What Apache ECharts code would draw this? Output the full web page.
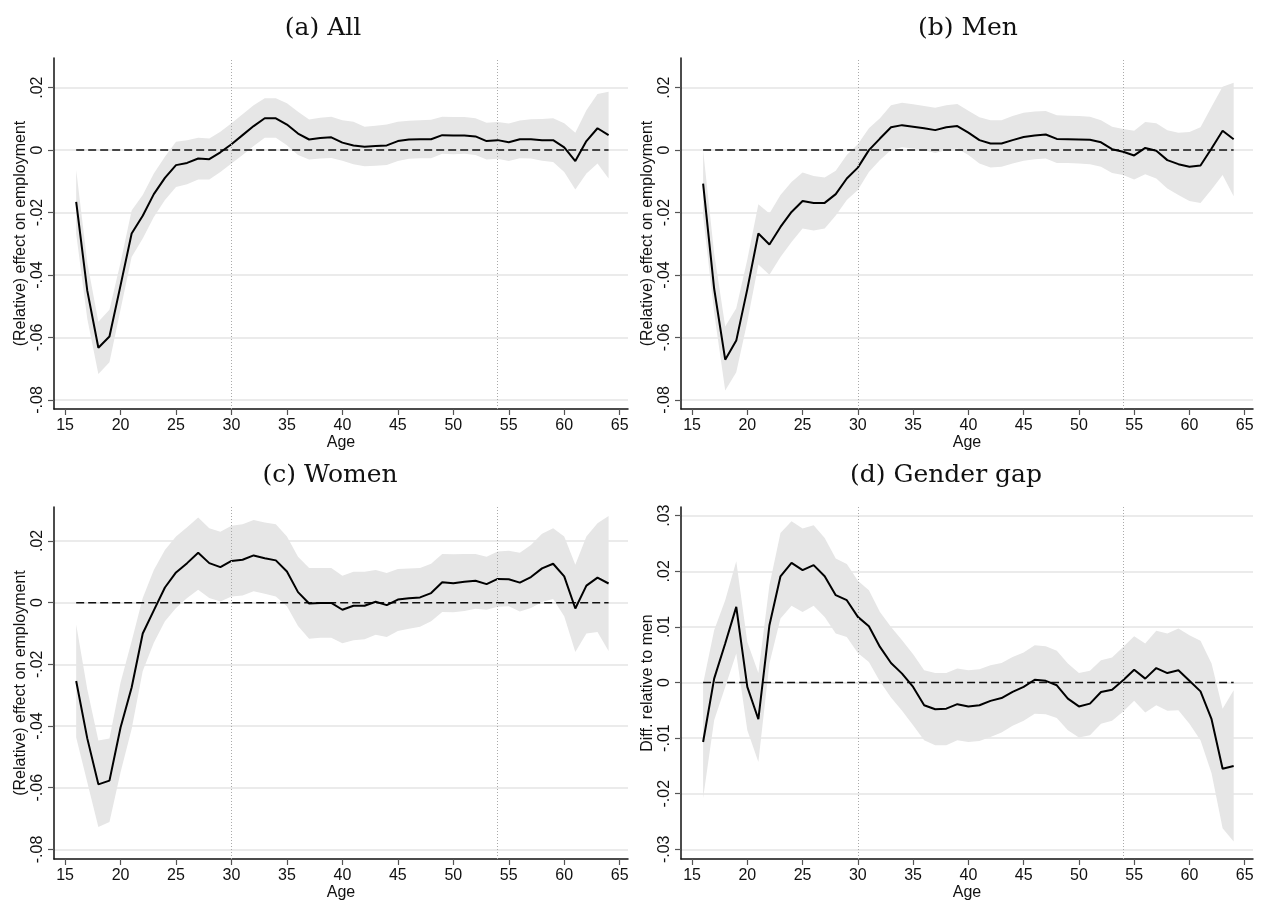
<!DOCTYPE html>
<html>
<head>
<meta charset="utf-8">
<title>Employment effects by age</title>
<script src="https://cdn.jsdelivr.net/npm/echarts@6/dist/echarts.min.js"></script>
<style>
  html, body { margin: 0; padding: 0; background: #fff; }
  #chart { width: 1263px; height: 904px; }
</style>
</head>
<body>
<div id="chart"></div>
<script>
// Ages covered by each estimate
const ages = [16,17,18,19,20,21,22,23,24,25,26,27,28,29,30,31,32,33,34,35,36,37,38,39,40,
              41,42,43,44,45,46,47,48,49,50,51,52,53,54,55,56,57,58,59,60,61,62,63,64];

// (a) All: point estimate and confidence band
const allMid = [-.0166,-.045,-.0633,-.0597,-.0433,-.0267,-.021,-.0141,-.0089,-.0048,-.0041,-.0027,-.0029,-.0007,.0019,.0048,.0077,.0102,.0102,.0082,.0053,.0034,.0039,.0041,.0024,
                .0015,.0011,.0013,.0015,.0029,.0034,.0035,.0035,.0048,.0047,.0047,.0044,.0029,.0032,.0025,.0035,.0035,.0032,.0032,.0009,-.0035,.0029,.0070,.0048];
const allLo  = [-.0268,-.054,-.0717,-.0679,-.051,-.0342,-.0283,-.0214,-.016,-.0118,-.0109,-.0094,-.0094,-.007,-.0043,-.0016,.0013,.004,.004,.0016,-.0016,-.003,-.0027,-.0025,-.0034,
                -.0045,-.0052,-.005,-.0048,-.0035,-.0028,-.0026,-.0026,-.0012,-.0013,-.0012,-.0016,-.003,-.0028,-.0035,-.0026,-.0027,-.0034,-.0038,-.007,-.0126,-.0075,-.0043,-.0091];
const allHi  = [-.0064,-.036,-.055,-.0511,-.036,-.0193,-.0144,-.0075,-.0021,.0027,.0032,.004,.0037,.0059,.0086,.0115,.0144,.0166,.0166,.015,.0123,.0098,.0104,.0107,.0096,
                .0091,.0075,.0078,.0082,.0091,.0094,.0096,.0097,.0107,.0106,.0106,.0102,.0088,.009,.0085,.0095,.0099,.01,.0102,.0086,.0056,.0128,.018,.0187];

// (b) Men
const menMid = [-.0107,-.0444,-.0671,-.061,-.0445,-.0267,-.0302,-.0246,-.0198,-.0163,-.0169,-.0169,-.0141,-.0091,-.0056,0,.0037,.0073,.008,.0075,.007,.0064,.0073,.0077,.0056,
                .0032,.0021,.0021,.0032,.0042,.0047,.005,.0036,.0035,.0034,.0033,.0025,.0003,-.0005,-.0017,.0007,-.0002,-.0032,-.0045,-.0053,-.0049,.0005,.0062,.0035];
const menLo  = [-.021,-.052,-.077,-.0711,-.055,-.0366,-.0399,-.0342,-.0294,-.0251,-.0257,-.0251,-.0209,-.016,-.0128,-.007,-.0032,0,.0009,.0005,0,-.0009,0,.0005,-.0016,
                -.0043,-.0056,-.0053,-.0043,-.0034,-.0029,-.0027,-.0041,-.0041,-.0043,-.0045,-.0053,-.0073,-.008,-.0094,-.0077,-.0091,-.0123,-.0144,-.0163,-.0169,-.0126,-.008,-.0148];
const menHi  = [0,-.033,-.0565,-.0506,-.035,-.0173,-.0203,-.0144,-.0102,-.0072,-.0083,-.0088,-.0066,-.0016,.0019,.007,.0102,.0144,.0152,.0147,.0141,.0136,.0144,.0148,.0126,
                .0105,.0096,.0096,.0109,.012,.0124,.0125,.0112,.011,.0109,.0107,.0096,.0075,.0068,.0062,.009,.0086,.0064,.0056,.0058,.0073,.0139,.0203,.0216];

// (c) Women
const womenMid = [-.0254,-.044,-.0589,-.0577,-.0405,-.0275,-.01,-.0025,.0049,.0098,.0128,.0162,.0128,.0115,.0135,.0139,.0153,.0144,.0137,.0101,.0034,-.0003,-.0001,-.0001,-.0023,
                  -.001,-.001,.0003,-.0008,.001,.0014,.0017,.0031,.0066,.0063,.0068,.0071,.006,.0077,.0076,.0065,.0083,.0111,.0126,.0085,-.0019,.0055,.0081,.0062];
const womenLo  = [-.0437,-.0582,-.0727,-.0711,-.055,-.041,-.0222,-.013,-.006,-.0017,.0015,.0042,.0015,.0004,.002,.0023,.0037,.0029,.002,-.0012,-.0076,-.0117,-.0114,-.0114,-.0132,
                  -.0122,-.0119,-.0104,-.0111,-.0092,-.0085,-.0078,-.006,-.003,-.0031,-.0027,-.002,-.0023,-.0013,-.0012,-.0029,-.0017,.0002,.0012,-.0044,-.016,-.01,-.0095,-.0157];
const womenHi  = [-.0071,-.0281,-.0447,-.044,-.0259,-.0125,.0015,.0106,.0171,.0214,.0244,.0276,.0241,.023,.0249,.0254,.0268,.026,.0254,.0214,.0149,.0112,.0112,.0112,.0087,
                  .01,.01,.0106,.0096,.0109,.0111,.0112,.0126,.0158,.0157,.0158,.0158,.0149,.0166,.0168,.0162,.0187,.0223,.0241,.0214,.0123,.0214,.0257,.0281];

// (d) Gender gap
const gapMid = [-.0107,.0007,.007,.0136,-.0008,-.0066,.0103,.0191,.0215,.0202,.0211,.0191,.0157,.0148,.0118,.0101,.0064,.0035,.0016,-.0008,-.0041,-.0048,-.0047,-.0039,-.0043,
                -.0041,-.0033,-.0028,-.0017,-.0008,.0005,.0003,-.0005,-.0029,-.0043,-.0038,-.0017,-.0013,.0004,.0023,.0007,.0026,.0017,.0022,.0003,-.0016,-.0066,-.0155,-.015];
const gapLo  = [-.0208,-.0068,-.0008,.0052,-.0086,-.0143,.0034,.0115,.0138,.0127,.0138,.0118,.0088,.0082,.0053,.0037,.0002,-.0027,-.0051,-.0077,-.0104,-.0113,-.0113,-.0104,-.0107,
                -.0105,-.0098,-.009,-.0078,-.0069,-.0056,-.0057,-.0064,-.0086,-.0099,-.0095,-.0074,-.0069,-.0052,-.0033,-.0054,-.0041,-.0051,-.005,-.0074,-.0104,-.0163,-.0262,-.0286];
const gapHi  = [-.0002,.0094,.0148,.0218,.0073,.0017,.0175,.0269,.029,.0277,.0283,.026,.0223,.0213,.0183,.0166,.0127,.01,.0076,.0051,.0022,.0017,.0017,.0025,.0022,
                .0024,.0031,.0035,.0046,.0054,.0067,.0065,.0057,.0034,.0017,.0021,.004,.0045,.0064,.0083,.007,.0093,.0088,.0097,.0085,.0075,.0034,-.0047,-.0014];

// Tick values
const xTicks = [15,20,25,30,35,40,45,50,55,60,65];
const yTicksEmp = [-0.08,-0.06,-0.04,-0.02,0,0.02];
const yTicksGap = [-0.03,-0.02,-0.01,0,0.01,0.02,0.03];

// Reference lines
const refAges = [30, 54];
const zeroSpan = [16, 64];

const panels = [
  { title: '(a) All',        mid: allMid,   lo: allLo,   hi: allHi,   yTicks: yTicksEmp, yName: '(Relative) effect on employment',
    grid: { left: 54, top: 58, width: 574, height: 351 }, yMin: -0.0829, yMax: 0.0295, titleX: 318, titleY: 11 },
  { title: '(b) Men',        mid: menMid,   lo: menLo,   hi: menHi,   yTicks: yTicksEmp, yName: '(Relative) effect on employment',
    grid: { left: 681, top: 58, width: 572, height: 351 }, yMin: -0.0829, yMax: 0.0295, titleX: 963, titleY: 11 },
  { title: '(c) Women',      mid: womenMid, lo: womenLo, hi: womenHi, yTicks: yTicksEmp, yName: '(Relative) effect on employment',
    grid: { left: 54, top: 507, width: 574, height: 352 }, yMin: -0.0831, yMax: 0.031, titleX: 325, titleY: 458 },
  { title: '(d) Gender gap', mid: gapMid,   lo: gapLo,   hi: gapHi,   yTicks: yTicksGap, yName: 'Diff. relative to men',
    grid: { left: 681, top: 507, width: 572, height: 352 }, yMin: -0.03174, yMax: 0.03156, titleX: 941, titleY: 458 }
];

// Stata-style labels: drop the leading zero
function fmtTick(v) {
  if (Math.abs(v) < 1e-9) return '0';
  const s = Math.abs(v).toFixed(2).replace(/^0/, '');
  return (v < 0 ? '-' : '') + s;
}

// Confidence band drawn as one closed polygon: upper bound forward, lower bound back
function bandRenderer(lo, hi) {
  return function (params, api) {
    if (params.dataIndex !== 0) return null;
    const pts = [];
    for (let k = 0; k < ages.length; k++) pts.push(api.coord([ages[k], hi[k]]));
    for (let k = ages.length - 1; k >= 0; k--) pts.push(api.coord([ages[k], lo[k]]));
    return {
      type: 'polygon', silent: true,
      shape: { points: pts },
      style: { fill: '#e6e6e6', stroke: null }
    };
  };
}

const sans = 'Liberation Sans, Arial, Helvetica, sans-serif';
const tickText = { color: '#111', fontSize: 16, fontFamily: sans };

const option = {
  animation: false,
  backgroundColor: '#fff',
  title: [], grid: [], xAxis: [], yAxis: [], series: []
};

panels.forEach((p, i) => {
  option.title.push({
    text: p.title, left: p.titleX, top: p.titleY, textAlign: 'center',
    textStyle: { fontFamily: 'DejaVu Serif, serif', fontWeight: 'normal', fontSize: 25, color: '#111' }
  });
  option.grid.push(Object.assign({ containLabel: false }, p.grid));
  option.xAxis.push({
    gridIndex: i, type: 'value', min: 14, max: 65.75,
    axisLine: { show: true, onZero: false, lineStyle: { color: '#111', width: 1.5 } },
    axisTick: { show: true, length: 6, customValues: xTicks, lineStyle: { color: '#555', width: 1.2 } },
    axisLabel: Object.assign({ customValues: xTicks, margin: 9 }, tickText),
    splitLine: { show: false },
    name: 'Age', nameLocation: 'middle', nameGap: 25,
    nameTextStyle: { color: '#111', fontSize: 16, fontFamily: sans }
  });
  option.yAxis.push({
    gridIndex: i, type: 'value', min: p.yMin, max: p.yMax,
    axisLine: { show: true, onZero: false, lineStyle: { color: '#111', width: 1.5 } },
    axisTick: { show: true, length: 6, customValues: p.yTicks, lineStyle: { color: '#555', width: 1.2 } },
    axisLabel: Object.assign({ customValues: p.yTicks, rotate: 90, margin: 8, formatter: fmtTick }, tickText),
    splitLine: { show: true, lineStyle: { color: '#e4e4e4', width: 1.5 } },
    name: p.yName, nameLocation: 'middle', nameGap: 25, nameRotate: 90,
    nameTextStyle: { color: '#111', fontSize: 16, fontFamily: sans }
  });

  // Confidence band
  option.series.push({
    type: 'custom', xAxisIndex: i, yAxisIndex: i, silent: true, z: 1,
    renderItem: bandRenderer(p.lo, p.hi),
    encode: { x: 0, y: [1, 2] },
    data: ages.map((a, k) => [a, p.lo[k], p.hi[k]])
  });
  // Zero reference line and vertical age markers
  option.series.push({
    type: 'line', xAxisIndex: i, yAxisIndex: i, symbol: 'none', silent: true,
    lineStyle: { color: '#111', width: 1.5, type: [8, 4] },
    data: zeroSpan.map(a => [a, 0]), z: 3,
    markLine: {
      symbol: 'none', silent: true, label: { show: false },
      lineStyle: { color: '#aaa', type: [1, 2], width: 1 },
      data: refAges.map(a => ({ xAxis: a }))
    }
  });
  // Point estimates
  option.series.push({
    type: 'line', xAxisIndex: i, yAxisIndex: i, symbol: 'none', silent: true,
    lineStyle: { color: '#000', width: 2 },
    data: ages.map((a, k) => [a, p.mid[k]]), z: 4
  });
});

const chart = echarts.init(document.getElementById('chart'), null, { renderer: 'canvas' });
chart.setOption(option);
</script>
</body>
</html>
